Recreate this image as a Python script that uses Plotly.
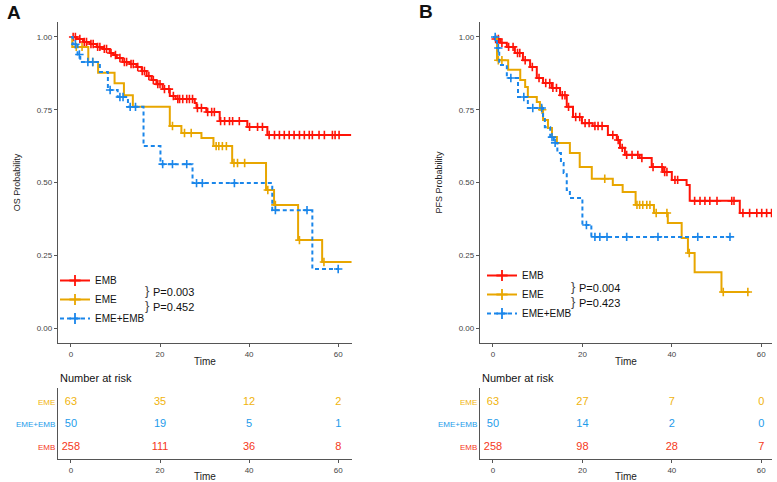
import plotly.graph_objects as go

# ---------------- data ----------------
# Panel A (OS) step curves: event times and survival after each step
a_emb_t = [0, 1.3, 2.7, 4.3, 5.8, 7.2, 8.7, 9.5, 10.3, 11.6, 13.2, 14.7, 15.9, 17.0, 18.1, 19.2, 20.6, 22.2, 23.5, 27.8, 28.2, 30.4, 33.4, 39.6, 44.1]
a_emb_s = [1.0, 0.993, 0.983, 0.976, 0.966, 0.959, 0.945, 0.938, 0.928, 0.914, 0.907, 0.897, 0.883, 0.866, 0.852, 0.838, 0.821, 0.797, 0.787, 0.773, 0.756, 0.742, 0.711, 0.691, 0.663]
a_emb_end = 62.9
a_emb_cens = [0.5, 1.0, 2.0, 3.0, 3.5, 4.5, 5.0, 6.0, 6.5, 7.5, 8.0, 9.0, 10.0, 11.0, 12.0, 12.5, 13.5, 14.0, 15.0, 16.0, 16.5, 17.5, 18.5, 19.5, 20.0, 21.0, 22.0, 23.0, 24.0,
              24.4, 25.1, 26.0, 26.6, 27.3, 28.4, 29.3, 30.7, 31.6, 32.2, 33.6, 34.5, 35.6, 36.3, 37.8, 40.1, 41.9, 43.0,
              44.5, 45.7, 46.8, 47.9, 49.0, 50.1, 51.3, 52.4, 53.5, 54.2, 55.7, 56.9, 58.7, 59.3, 60.2]

a_eme_t = [0, 0.3, 3.9, 6.1, 9.8, 11.9, 13.9, 22.2, 24.8, 29.3, 32.0, 36.2, 43.8, 45.6, 51.0, 56.4]
a_eme_s = [1.0, 0.966, 0.914, 0.877, 0.841, 0.80, 0.76, 0.694, 0.67, 0.653, 0.625, 0.567, 0.474, 0.423, 0.302, 0.227]
a_eme_end = 63.0
a_eme_cens = [1.2, 2.5, 4.9, 22.8, 25.5, 27.0, 32.6, 33.2, 34.0, 34.9, 36.6, 37.4, 39.0, 44.2, 45.9, 51.3, 56.8]

a_mix_t = [0, 0.4, 1.5, 2.1, 6.5, 8.3, 10.5, 12.8, 16.3, 20.1, 27.3, 45.2, 54.2]
a_mix_s = [1.0, 0.975, 0.94, 0.914, 0.88, 0.818, 0.794, 0.76, 0.625, 0.563, 0.498, 0.405, 0.203]
a_mix_end = 60.2
a_mix_cens = [1.0, 1.9, 3.8, 4.9, 8.8, 11.0, 11.7, 13.3, 14.5, 20.6, 22.8, 26.0, 28.2, 29.5, 36.7, 45.9, 53.0, 60.0]

# Panel B (PFS)
b_emb_t = [0, 0.4, 1.6, 3.1, 4.9, 6.7, 8.3, 9.8, 11.2, 13.2, 15.0, 16.5, 17.9, 19.9, 22.3, 25.7, 27.7, 28.4, 29.5, 32.8, 35.5, 38.0, 40.0, 43.3, 44.0, 55.2]
b_emb_s = [1.0, 0.993, 0.98, 0.966, 0.945, 0.92, 0.897, 0.859, 0.842, 0.825, 0.80, 0.76, 0.725, 0.704, 0.694, 0.663, 0.646, 0.619, 0.595, 0.584, 0.553, 0.536, 0.509, 0.491, 0.437, 0.395]
b_emb_end = 62.6
b_emb_cens = [0.6, 1.2, 2.0, 3.5, 4.5, 5.5, 6.0, 7.2, 8.8, 10.3, 11.8, 12.7, 13.4, 14.2, 15.5, 16.1, 16.9, 18.5, 19.4, 20.6, 21.5, 22.8, 23.5, 24.4, 26.8, 28.0, 28.9,
              29.9, 31.1, 32.4, 33.3, 35.8, 37.8, 38.4, 38.9, 40.7, 41.3, 45.1, 46.3, 47.4, 48.5, 50.1, 53.4, 53.9, 55.9, 57.4, 59.0, 60.1, 61.2, 62.3]

b_eme_t = [0, 0.9, 3.4, 6.1, 7.2, 7.8, 9.8, 10.5, 11.2, 12.3, 13.2, 14.3, 17.2, 19.4, 22.1, 26.8, 29.0, 31.9, 36.0, 39.1, 42.2, 43.6, 45.1, 51.1]
b_eme_s = [1.0, 0.92, 0.887, 0.852, 0.828, 0.794, 0.777, 0.75, 0.715, 0.687, 0.656, 0.636, 0.601, 0.553, 0.513, 0.491, 0.467, 0.423, 0.395, 0.361, 0.309, 0.258, 0.192, 0.124]
b_eme_end = 57.4
b_eme_cens = [1.2, 2.0, 11.0, 25.0, 32.2, 32.8, 33.5, 34.4, 35.1, 36.5, 38.9, 43.9, 51.5, 57.0]

b_mix_t = [0, 0.9, 1.4, 3.1, 5.6, 7.8, 11.2, 11.6, 12.8, 13.6, 14.4, 15.2, 15.8, 16.5, 17.2, 20.0, 22.0]
b_mix_s = [1.0, 0.962, 0.904, 0.859, 0.794, 0.756, 0.722, 0.69, 0.656, 0.636, 0.601, 0.567, 0.533, 0.474, 0.447, 0.354, 0.313]
b_mix_end = 53.4
b_mix_cens = [0.5, 1.2, 4.0, 6.9, 8.9, 10.9, 13.2, 13.9, 20.9, 22.8, 23.9, 25.5, 29.9, 36.9, 45.8, 53.0]

groups = ["EMB", "EME", "EME+EMB"]
risk_rows = ["EMB", "EME+EMB", "EME"]       # bottom to top
risk_times = [0, 20, 40, 60]
a_risk = {"EME": [63, 35, 12, 2], "EME+EMB": [50, 19, 5, 1], "EMB": [258, 111, 36, 8]}
b_risk = {"EME": [63, 27, 7, 0], "EME+EMB": [50, 14, 2, 0], "EMB": [258, 98, 28, 7]}
a_pvals = ["P=0.003", "P=0.452"]
b_pvals = ["P=0.004", "P=0.423"]
y_ticks = [0, 0.25, 0.5, 0.75, 1.0]
y_ticklabels = ["0.00", "0.25", "0.50", "0.75", "1.00"]

# ---------------- style ----------------
col = {"EMB": "#FF1408", "EME": "#E8A600", "EME+EMB": "#1A86EA"}
risk_col = {"EMB": "#F5391A", "EME": "#F0B30C", "EME+EMB": "#1E9BEA"}
dash = {"EMB": "solid", "EME": "solid", "EME+EMB": "4px,3px"}
FONT = "Arial, Liberation Sans, sans-serif"
W, H = 777, 482

fig = go.Figure()


def step_val(ts, ss, t):
    v = ss[0]
    for ti, si in zip(ts, ss):
        if ti <= t:
            v = si
    return v


def add_curve(ts, ss, end, cens, name, xa, ya):
    xs = list(ts) + [end]
    ys = list(ss) + [ss[-1]]
    fig.add_trace(go.Scatter(x=xs, y=ys, mode="lines", line=dict(color=col[name], width=2, dash=dash[name], shape="hv"),
                             xaxis=xa, yaxis=ya, showlegend=False, hoverinfo="skip"))
    cy = [step_val(ts, ss, c) for c in cens]
    fig.add_trace(go.Scatter(x=cens, y=cy, mode="markers",
                             marker=dict(symbol="cross-thin", size=6, color=col[name], line=dict(width=1.6, color=col[name])),
                             xaxis=xa, yaxis=ya, showlegend=False, hoverinfo="skip"))


add_curve(a_emb_t, a_emb_s, a_emb_end, a_emb_cens, "EMB", "x", "y")
add_curve(a_eme_t, a_eme_s, a_eme_end, a_eme_cens, "EME", "x", "y")
add_curve(a_mix_t, a_mix_s, a_mix_end, a_mix_cens, "EME+EMB", "x", "y")
add_curve(b_emb_t, b_emb_s, b_emb_end, b_emb_cens, "EMB", "x2", "y2")
add_curve(b_eme_t, b_eme_s, b_eme_end, b_eme_cens, "EME", "x2", "y2")
add_curve(b_mix_t, b_mix_s, b_mix_end, b_mix_cens, "EME+EMB", "x2", "y2")

# legend entries
for lg, xa, ya in [("legend", "x", "y"), ("legend2", "x2", "y2")]:
    for g in groups:
        fig.add_trace(go.Scatter(x=[None], y=[None], mode="lines+markers", name=g, legend=lg,
                                 line=dict(color=col[g], width=2, dash=dash[g]),
                                 marker=dict(symbol="cross-thin", size=8, color=col[g], line=dict(width=1.8, color=col[g])),
                                 xaxis=xa, yaxis=ya, showlegend=True))

# risk tables
for risk, xa, ya in [(a_risk, "x3", "y3"), (b_risk, "x4", "y4")]:
    for i, r in enumerate(risk_rows):
        fig.add_trace(go.Scatter(x=risk_times, y=[i] * len(risk_times), mode="text",
                                 text=[str(v) for v in risk[r]],
                                 textfont=dict(color=risk_col[r], size=11, family=FONT),
                                 xaxis=xa, yaxis=ya, showlegend=False, hoverinfo="skip"))


def px_x(p):
    return p / W


def px_y(p):
    return 1 - p / H


axis_line = dict(showline=True, linecolor="#555", linewidth=1.3, showgrid=False, zeroline=False,
                 ticks="outside", ticklen=3, tickcolor="#555", tickfont=dict(size=8, color="#444", family=FONT))

xA = [px_x(58), px_x(352)]
xB = [px_x(480), px_x(772)]
yMain = [px_y(343), px_y(22)]
yRisk = [px_y(459), px_y(388)]

fig.update_layout(
    width=W, height=H, margin=dict(l=0, r=0, t=0, b=0),
    plot_bgcolor="white", paper_bgcolor="white",
    font=dict(family=FONT, color="#222"),
    xaxis=dict(domain=xA, range=[-2.9, 63.1], anchor="y", tickvals=risk_times,
               title=dict(text="Time", font=dict(size=10, color="#222"), standoff=0), **axis_line),
    yaxis=dict(domain=yMain, range=[-0.0515, 1.0515], anchor="x", tickvals=y_ticks, ticktext=y_ticklabels,
               title=dict(text="OS Probability", font=dict(size=9, color="#222"), standoff=14), **axis_line),
    xaxis2=dict(domain=xB, range=[-2.9, 62.4], anchor="y2", tickvals=risk_times,
                title=dict(text="Time", font=dict(size=10, color="#222"), standoff=0), **axis_line),
    yaxis2=dict(domain=yMain, range=[-0.0515, 1.0515], anchor="x2", tickvals=y_ticks, ticktext=y_ticklabels,
                title=dict(text="PFS Probability", font=dict(size=9, color="#222"), standoff=14), **axis_line),
    xaxis3=dict(domain=xA, range=[-2.9, 63.1], anchor="y3", tickvals=risk_times,
                title=dict(text="Time", font=dict(size=10, color="#222"), standoff=0), **axis_line),
    yaxis3=dict(domain=yRisk, range=[-0.53, 2.62], anchor="x3", tickvals=[0, 1, 2],
                ticktext=['<span style="color:%s">%s</span>' % (risk_col[r], r) for r in risk_rows],
                showline=True, linecolor="#555", linewidth=1.3, showgrid=False, zeroline=False, ticks="",
                tickfont=dict(size=8, family=FONT)),
    xaxis4=dict(domain=xB, range=[-2.9, 62.4], anchor="y4", tickvals=risk_times,
                title=dict(text="Time", font=dict(size=10, color="#222"), standoff=0), **axis_line),
    yaxis4=dict(domain=yRisk, range=[-0.53, 2.62], anchor="x4", tickvals=[0, 1, 2],
                ticktext=['<span style="color:%s">%s</span>' % (risk_col[r], r) for r in risk_rows],
                showline=True, linecolor="#555", linewidth=1.3, showgrid=False, zeroline=False, ticks="",
                tickfont=dict(size=8, family=FONT)),
    legend=dict(x=px_x(55), y=px_y(266), xanchor="left", yanchor="top", bgcolor="rgba(0,0,0,0)",
                font=dict(size=10, color="#111", family=FONT), tracegroupgap=0, itemwidth=30),
    legend2=dict(x=px_x(482), y=px_y(261), xanchor="left", yanchor="top", bgcolor="rgba(0,0,0,0)",
                 font=dict(size=10, color="#111", family=FONT), tracegroupgap=0, itemwidth=30),
)


def A(text, x, y, size, xanchor="center", color="#111"):
    return dict(text=text, x=px_x(x), y=px_y(y), xref="paper", yref="paper", showarrow=False,
                xanchor=xanchor, yanchor="middle", font=dict(size=size, color=color, family=FONT))


ann = [A("<b>A</b>", 14, 12, 19), A("<b>B</b>", 426, 11, 19)]
for xx in [58, 480]:
    ann.append(A("Number at risk", xx, 378, 11, xanchor="left"))
# braces and p-values
for (bx, by1, by2, pv) in [(147, 290, 305, a_pvals), (573, 286, 301, b_pvals)]:
    ann.append(A("}", bx, by1, 13, color="#444"))
    ann.append(A("}", bx, by2, 13, color="#444"))
    ann.append(A(pv[0], bx + 4, by1 + 2, 11, xanchor="left"))
    ann.append(A(pv[1], bx + 4, by2 + 2, 11, xanchor="left"))
fig.update_layout(annotations=ann)

fig.write_html("out.html", config={"displayModeBar": False},
               post_script="document.body.style.margin='0';document.body.style.overflow='hidden';")
